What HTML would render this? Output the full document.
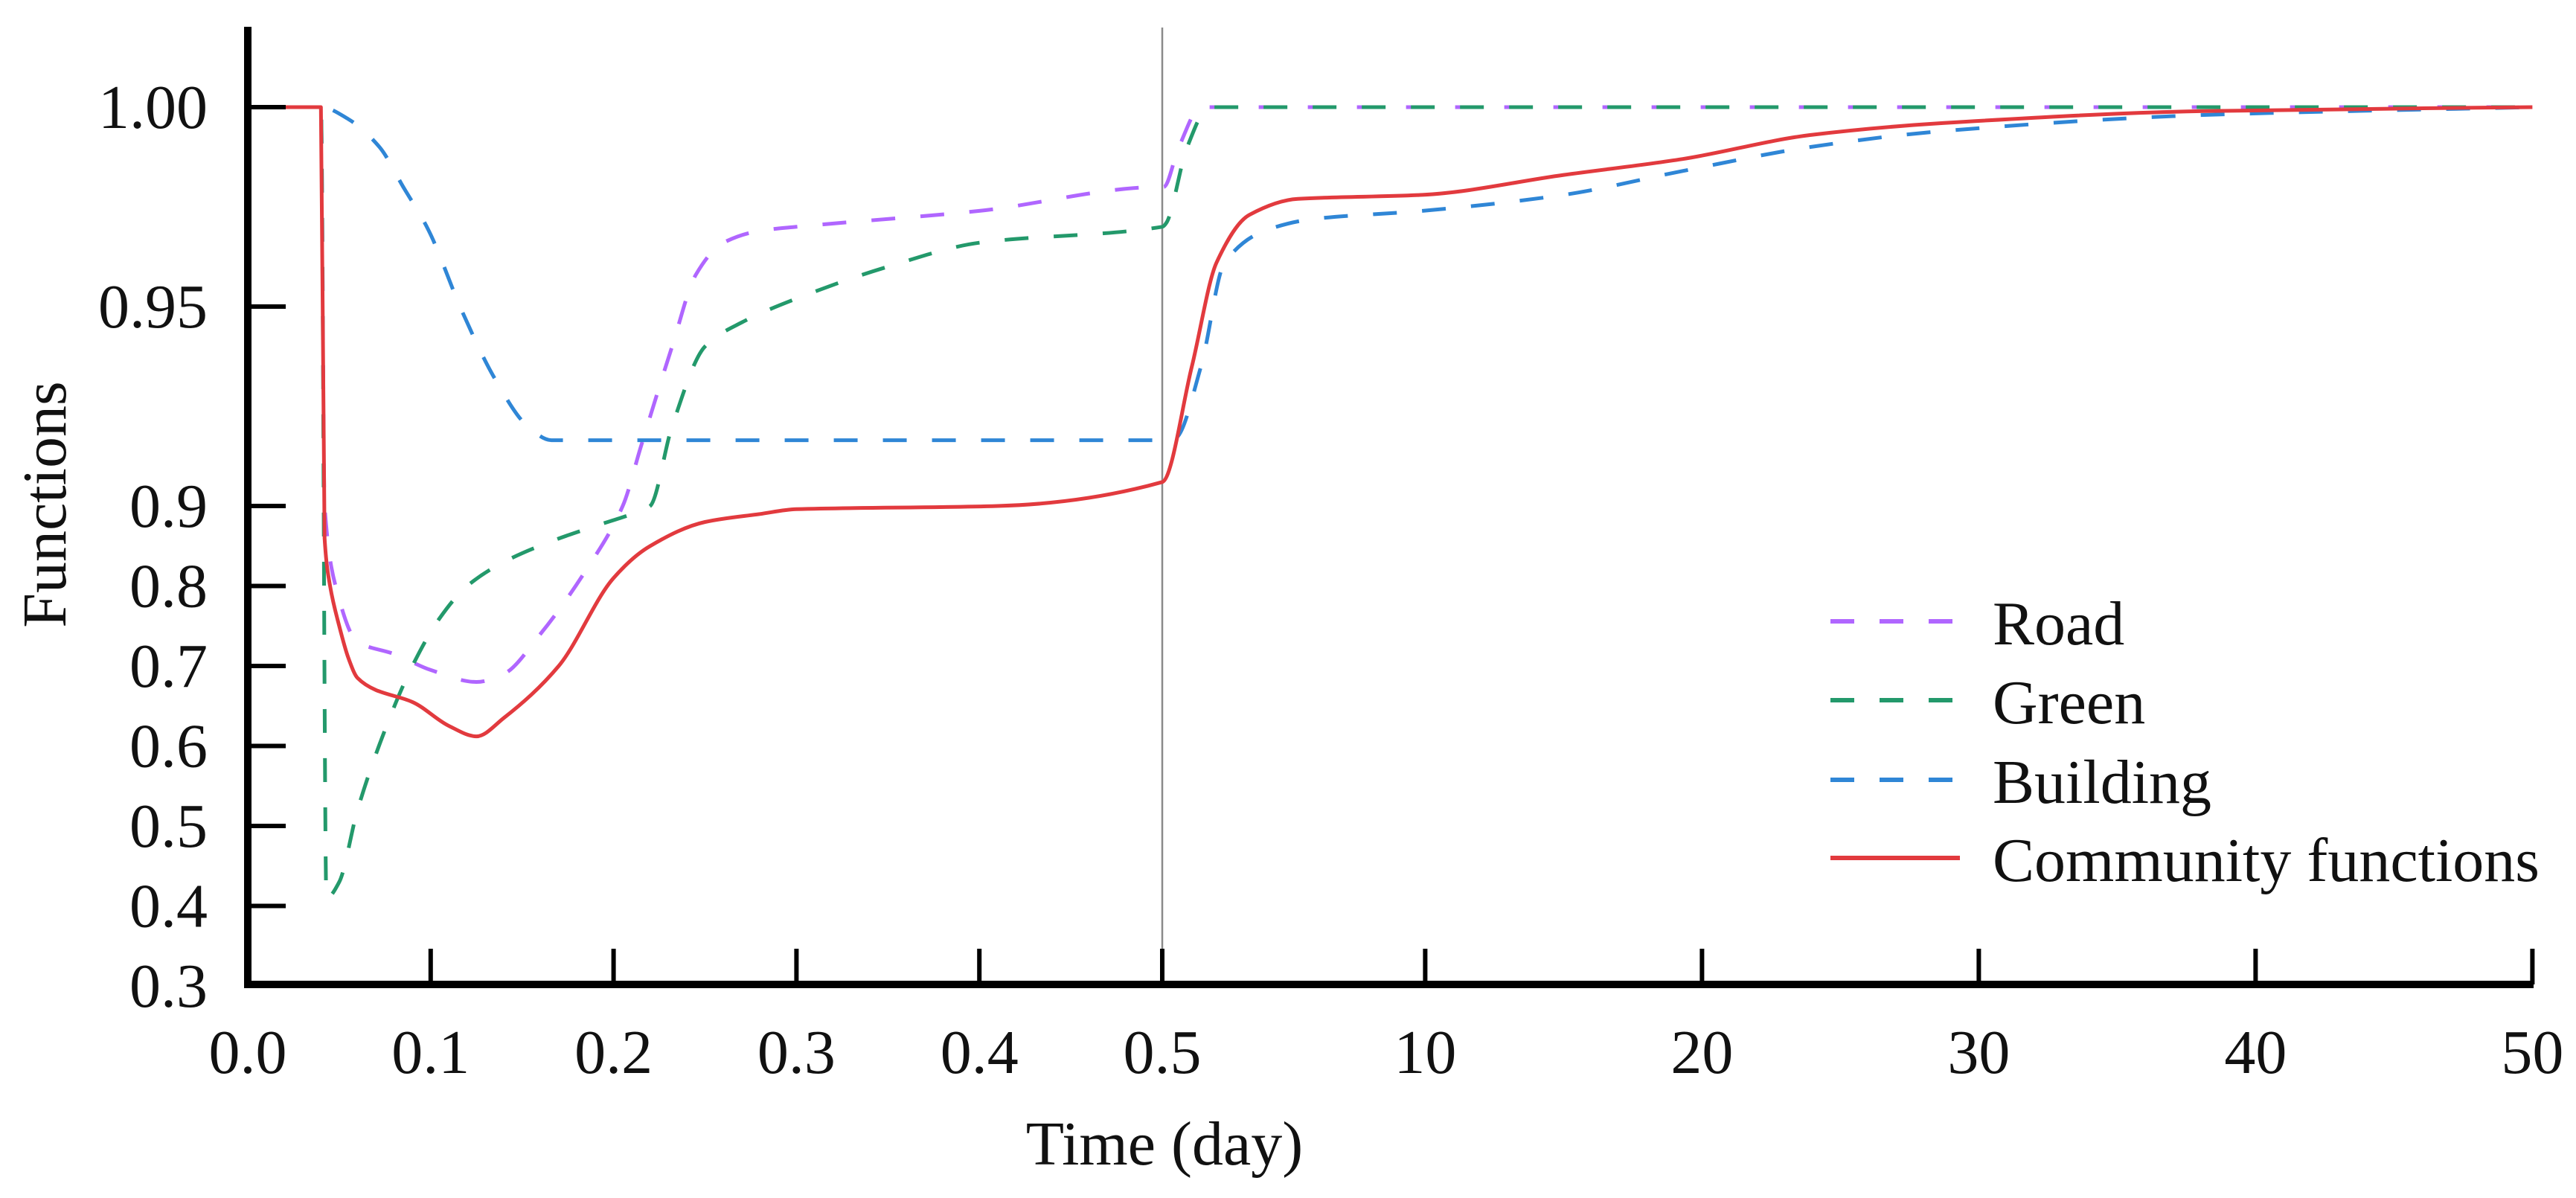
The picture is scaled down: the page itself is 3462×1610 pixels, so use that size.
<!DOCTYPE html>
<html><head><meta charset="utf-8"><style>
html,body{margin:0;padding:0;background:#fff;}
svg{display:block;}
text{font-family:"Liberation Serif",serif;fill:#111;}
</style></head><body>
<svg id="chart" width="3462" height="1610" viewBox="0 0 3462 1610" xmlns="http://www.w3.org/2000/svg">
<g id="marks"></g>
<g id="axes"></g>
<g id="legend"></g>
</svg>
<script>
// ---- data ----
const xTickValues = [0, 0.1, 0.2, 0.3, 0.4, 0.5, 10, 20, 30, 40, 50];
const xTickLabels = ["0.0","0.1","0.2","0.3","0.4","0.5","10","20","30","40","50"];
const yTickValues = [1.0, 0.95, 0.9, 0.8, 0.7, 0.6, 0.5, 0.4, 0.3];
const yTickLabels = ["1.00","0.95","0.9","0.8","0.7","0.6","0.5","0.4","0.3"];

const roadT = [0.02,0.04,0.042,0.048,0.06,0.08,0.1,0.125,0.14,0.16,0.185,0.205,0.215,0.232,0.245,0.26,0.28,0.3,0.4,0.5,0.55,1.1,1.9,50];
const roadV = [1.0,1.0,0.9,0.8,0.73,0.715,0.695,0.68,0.69,0.74,0.82,0.9,0.915,0.94,0.958,0.966,0.969,0.970,0.974,0.98,0.98,0.99,1.0,1.0];

const greenT = [0.02,0.04,0.043,0.05,0.06,0.075,0.09,0.105,0.12,0.14,0.165,0.19,0.21,0.22,0.232,0.25,0.27,0.3,0.35,0.4,0.5,0.65,1.4,2.2,50];
const greenV = [1.0,1.0,0.41,0.43,0.52,0.62,0.7,0.76,0.8,0.83,0.855,0.875,0.89,0.9,0.92,0.94,0.946,0.952,0.96,0.966,0.970,0.971,0.99,1.0,1.0];

const buildingT = [0.02,0.04,0.055,0.072,0.085,0.099,0.117,0.135,0.153,0.166,0.5,0.97,1.9,2.75,4.2,6,9.9,15,19.3,23.9,28.7,38,50];
const buildingV = [1.0,1.0,0.997,0.99,0.98,0.969,0.949,0.932,0.92,0.9165,0.9165,0.917,0.935,0.961,0.969,0.972,0.974,0.978,0.984,0.99,0.994,0.998,1.0];

const communityT = [0.02,0.04,0.042,0.045,0.05,0.055,0.06,0.07,0.09,0.11,0.125,0.14,0.17,0.2,0.22,0.25,0.28,0.3,0.41,0.5,1.57,2.46,3.65,5.4,9.9,15,19.3,23.9,28.7,38,50];
const communityV = [1.0,1.0,0.86,0.80,0.75,0.71,0.685,0.67,0.655,0.625,0.612,0.635,0.70,0.81,0.85,0.88,0.89,0.896,0.9,0.906,0.935,0.961,0.973,0.977,0.978,0.983,0.987,0.993,0.996,0.999,1.0];

// ---- axis functions ----
function xs(t){ return t <= 0.5 ? 333 + t*2458 : 1562 + (t-0.5)*37.2; }
function ys(v){ return v >= 0.9 ? 680 - (v-0.9)*5360 : 680 + (0.9-v)*1075; }

// monotone cubic path in pixel space
function monotonePath(px, py){
  const n = px.length;
  const d = [], m = [];
  for (let i=0;i<n-1;i++){ const dx = px[i+1]-px[i]; d.push(dx>0.001 ? (py[i+1]-py[i])/dx : 0); }
  for (let i=0;i<n;i++){
    if (i===0) m.push(d[0]); else if (i===n-1) m.push(d[n-2]);
    else if (d[i-1]*d[i] <= 0) m.push(0);
    else { const a=d[i-1], b=d[i]; m.push(2*a*b/(a+b)); }
  }
  let s = 'M'+px[0].toFixed(1)+','+py[0].toFixed(1);
  for (let i=0;i<n-1;i++){
    const dx = px[i+1]-px[i];
    if (dx < 1.5) { s += ' L'+px[i+1].toFixed(1)+','+py[i+1].toFixed(1); continue; }
    const h = dx/3;
    s += ' C'+(px[i]+h).toFixed(1)+','+(py[i]+m[i]*h).toFixed(1)+' '+(px[i+1]-h).toFixed(1)+','+(py[i+1]-m[i+1]*h).toFixed(1)+' '+px[i+1].toFixed(1)+','+py[i+1].toFixed(1);
  }
  return s;
}

const NS = "http://www.w3.org/2000/svg";
function mk(tag, attrs, parent){
  const e = document.createElementNS(NS, tag);
  for (const k in attrs) e.setAttribute(k, attrs[k]);
  parent.appendChild(e);
  return e;
}
const marks = document.getElementById('marks');
const axes = document.getElementById('axes');
const legend = document.getElementById('legend');

const sep = mk('line', {x1:xs(0.5), x2:xs(0.5), y1:37, y2:1323, stroke:'#8a8a8a', 'stroke-width':2.5}, marks);



const series = [
  {name:'road', T:roadT, V:roadV, color:'#b066ff', dash:'32 34'},
  {name:'green', T:greenT, V:greenV, color:'#23996b', dash:'32 34'},
  {name:'building', T:buildingT, V:buildingV, color:'#2f86d6', dash:'32 34'},
  {name:'community-functions', T:communityT, V:communityV, color:'#e23a3e', dash:''}
];
series.forEach(s => {
  const px = s.T.map(xs), py = s.V.map(ys);
  const attrs = {d:monotonePath(px,py), fill:'none', stroke:s.color, 'stroke-width':5, 'stroke-linejoin':'round', 'stroke-linecap':'butt'};
  if (s.dash) attrs['stroke-dasharray'] = s.dash;
  const p = mk('path', attrs, marks);
  
  
});

const yAxis = mk('line', {x1:333, x2:333, y1:36, y2:1328, stroke:'#000', 'stroke-width':10}, axes);


const xAxis = mk('line', {x1:328, x2:3405, y1:1323, y2:1323, stroke:'#000', 'stroke-width':10}, axes);



xTickValues.forEach((t,i) => {
  const x = xs(t);
  if (i > 0) {
    const tk = mk('line', {x1:x, x2:x, y1:1323, y2:1275, stroke:'#000', 'stroke-width':6}, axes);
    
    
  }
  const lb = mk('text', {x:x, y:1442, 'font-size':84, 'text-anchor':'middle'}, axes);
  lb.textContent = xTickLabels[i];
  
  
});
yTickValues.forEach((v,i) => {
  const y = ys(v);
  if (i < yTickValues.length-1) {
    const tk = mk('line', {x1:333, x2:384, y1:y, y2:y, stroke:'#000', 'stroke-width':6}, axes);
    
    
  }
  const lb = mk('text', {x:279, y:y+28, 'font-size':84, 'text-anchor':'end'}, axes);
  lb.textContent = yTickLabels[i];
  
  
});

const yt = mk('text', {x:0, y:0, 'font-size':84, 'text-anchor':'middle', transform:'translate(88,678) rotate(-90)'}, axes);
yt.textContent = 'Functions';


const xt = mk('text', {x:1565, y:1565, 'font-size':84, 'text-anchor':'middle'}, axes);
xt.textContent = 'Time (day)';



const legLabels = ['Road','Green','Building','Community functions'];
const legLineY = [835, 941, 1048, 1153];
series.forEach((s,i) => {
  const attrs = {x1:2460, x2: s.dash ? 2624 : 2634, y1:legLineY[i], y2:legLineY[i], stroke:s.color, 'stroke-width':6};
  if (s.dash) attrs['stroke-dasharray'] = s.dash;
  const l = mk('line', attrs, legend);
  
  
  const tx = mk('text', {x:2678, y:legLineY[i]+31, 'font-size':84}, legend);
  tx.textContent = legLabels[i];
  
  
});
</script>
</body></html>
